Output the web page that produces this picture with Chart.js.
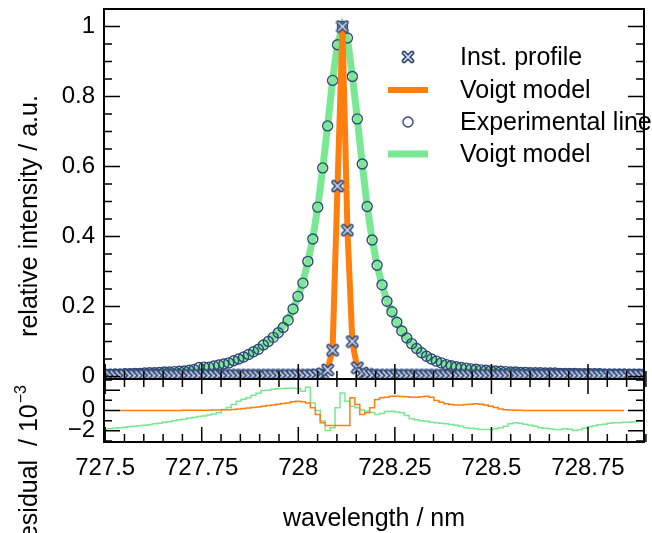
<!DOCTYPE html>
<html>
<head>
<meta charset="utf-8">
<script src="https://cdn.jsdelivr.net/npm/chart.js@4.4.1/dist/chart.umd.min.js"></script>
<style>
html, body { margin: 0; padding: 0; background: #fff; }
#wrap { width: 652px; height: 533px; position: relative; }
</style>
</head>
<body>
<div id="wrap"><canvas id="voigtChart" width="652" height="533"></canvas></div>
<script>
// wavelength grid of the spectrometer (nm)
var wavelength = [
  727.5000, 727.5128, 727.5256, 727.5384, 727.5512, 727.5640, 727.5768, 727.5896, 727.6024, 727.6152,
  727.6280, 727.6408, 727.6536, 727.6664, 727.6792, 727.6920, 727.7048, 727.7176, 727.7304, 727.7432,
  727.7560, 727.7688, 727.7816, 727.7944, 727.8072, 727.8200, 727.8328, 727.8456, 727.8584, 727.8712,
  727.8840, 727.8968, 727.9096, 727.9224, 727.9352, 727.9480, 727.9608, 727.9736, 727.9864, 727.9992,
  728.0120, 728.0248, 728.0376, 728.0504, 728.0632, 728.0760, 728.0888, 728.1016, 728.1144, 728.1272,
  728.1400, 728.1528, 728.1656, 728.1784, 728.1912, 728.2040, 728.2168, 728.2296, 728.2424, 728.2552,
  728.2680, 728.2808, 728.2936, 728.3064, 728.3192, 728.3320, 728.3448, 728.3576, 728.3704, 728.3832,
  728.3960, 728.4088, 728.4216, 728.4344, 728.4472, 728.4600, 728.4728, 728.4856, 728.4984, 728.5112,
  728.5240, 728.5368, 728.5496, 728.5624, 728.5752, 728.5880, 728.6008, 728.6136, 728.6264, 728.6392,
  728.6520, 728.6648, 728.6776, 728.6904, 728.7032, 728.7160, 728.7288, 728.7416, 728.7544, 728.7672,
  728.7800, 728.7928, 728.8056, 728.8184, 728.8312, 728.8440, 728.8568, 728.8696, 728.8824, 728.8952
];

// instrument profile (crosses) and its Voigt fit
var instProfile = [
  0.003, 0.003, 0.003, 0.003, 0.003, 0.003, 0.003, 0.003, 0.003, 0.003,
  0.003, 0.003, 0.003, 0.003, 0.003, 0.003, 0.003, 0.003, 0.003, 0.003,
  0.003, 0.003, 0.003, 0.003, 0.003, 0.003, 0.003, 0.003, 0.003, 0.003,
  0.003, 0.003, 0.003, 0.003, 0.003, 0.003, 0.003, 0.003, 0.003, 0.003,
  0.003, 0.003, 0.004, 0.005, 0.008, 0.019, 0.075, 0.544, 1.000, 0.418,
  0.100, 0.025, 0.010, 0.006, 0.004, 0.003, 0.003, 0.003, 0.003, 0.003,
  0.003, 0.003, 0.003, 0.003, 0.003, 0.003, 0.003, 0.003, 0.003, 0.003,
  0.003, 0.003, 0.003, 0.003, 0.003, 0.003, 0.003, 0.003, 0.003, 0.003,
  0.003, 0.003, 0.003, 0.003, 0.003, 0.003, 0.003, 0.003, 0.003, 0.003,
  0.003, 0.003, 0.003, 0.003, 0.003, 0.003, 0.003, 0.003, 0.003, 0.003,
  0.003, 0.003, 0.003, 0.003, 0.003, 0.003, 0.003, 0.003, 0.003, 0.003
];
var instModel = [
  0.003, 0.003, 0.003, 0.003, 0.003, 0.003, 0.003, 0.003, 0.003, 0.003,
  0.003, 0.003, 0.003, 0.003, 0.003, 0.003, 0.003, 0.003, 0.003, 0.003,
  0.003, 0.003, 0.003, 0.003, 0.003, 0.003, 0.003, 0.003, 0.003, 0.003,
  0.003, 0.003, 0.003, 0.003, 0.003, 0.003, 0.003, 0.003, 0.003, 0.003,
  0.003, 0.003, 0.004, 0.006, 0.009, 0.020, 0.078, 0.546, 1.000, 0.420,
  0.098, 0.024, 0.010, 0.006, 0.004, 0.003, 0.003, 0.003, 0.003, 0.003,
  0.003, 0.003, 0.003, 0.003, 0.003, 0.003, 0.003, 0.003, 0.003, 0.003,
  0.003, 0.003, 0.003, 0.003, 0.003, 0.003, 0.003, 0.003, 0.003, 0.003,
  0.003, 0.003, 0.003, 0.003, 0.003, 0.003, 0.003, 0.003, 0.003, 0.003,
  0.003, 0.003, 0.003, 0.003, 0.003, 0.003, 0.003, 0.003, 0.003, 0.003,
  0.003, 0.003, 0.003, 0.003, 0.003, 0.003, 0.003, 0.003, 0.003, 0.003
];

// experimental line (circles) and its Voigt fit
var expLine = [
  0.006, 0.006, 0.007, 0.007, 0.008, 0.008, 0.009, 0.009, 0.010, 0.011,
  0.011, 0.012, 0.013, 0.013, 0.014, 0.015, 0.016, 0.018, 0.020, 0.026,
  0.027, 0.027, 0.030, 0.033, 0.036, 0.039, 0.045, 0.050, 0.056, 0.063,
  0.071, 0.078, 0.090, 0.100, 0.112, 0.125, 0.140, 0.161, 0.193, 0.229,
  0.267, 0.329, 0.393, 0.484, 0.596, 0.716, 0.846, 0.948, 1.000, 0.967,
  0.857, 0.736, 0.607, 0.486, 0.390, 0.318, 0.262, 0.215, 0.185, 0.155,
  0.130, 0.110, 0.094, 0.080, 0.068, 0.058, 0.050, 0.044, 0.039, 0.034,
  0.031, 0.028, 0.026, 0.024, 0.022, 0.021, 0.019, 0.018, 0.017, 0.016,
  0.015, 0.014, 0.013, 0.013, 0.012, 0.012, 0.011, 0.011, 0.011, 0.010,
  0.010, 0.010, 0.009, 0.009, 0.009, 0.009, 0.008, 0.008, 0.008, 0.008,
  0.008, 0.007, 0.007, 0.007, 0.007, 0.007, 0.006, 0.006, 0.006, 0.006
];
var expModel = [
  0.006, 0.006, 0.007, 0.007, 0.008, 0.008, 0.009, 0.009, 0.010, 0.011,
  0.011, 0.012, 0.013, 0.013, 0.014, 0.015, 0.016, 0.018, 0.019, 0.021,
  0.023, 0.025, 0.028, 0.031, 0.035, 0.039, 0.044, 0.049, 0.055, 0.062,
  0.070, 0.079, 0.089, 0.100, 0.112, 0.126, 0.143, 0.163, 0.192, 0.228,
  0.270, 0.328, 0.395, 0.484, 0.594, 0.716, 0.846, 0.950, 0.998, 0.965,
  0.857, 0.736, 0.606, 0.487, 0.391, 0.318, 0.262, 0.216, 0.184, 0.155,
  0.130, 0.110, 0.094, 0.080, 0.068, 0.058, 0.050, 0.044, 0.039, 0.035,
  0.031, 0.028, 0.026, 0.024, 0.022, 0.021, 0.019, 0.018, 0.017, 0.016,
  0.015, 0.014, 0.013, 0.013, 0.012, 0.012, 0.011, 0.011, 0.011, 0.010,
  0.010, 0.010, 0.009, 0.009, 0.009, 0.009, 0.008, 0.008, 0.008, 0.008,
  0.008, 0.007, 0.007, 0.007, 0.007, 0.007, 0.006, 0.006, 0.006, 0.006
];

// residuals in units of 1e-3
var residInst = [
  null, null, null, 0, 0, 0, 0, 0, 0, 0,
  0, 0, 0, 0, 0, 0.01, 0.02, 0.02, 0.02, 0.02,
  0.02, 0.03, 0.04, 0.05, 0.07, 0.08, 0.10, 0.15, 0.20, 0.25,
  0.30, 0.35, 0.43, 0.50, 0.55, 0.62, 0.70, 0.75, 0.85, 0.92,
  0.85, 0.75, 0.26, -0.40, -1.20, -1.47, -1.47, -1.47, -1.47, -1.47,
  1.25, 0.60, -0.40, -0.23, 0.26, 1.08, 1.25, 1.30, 1.40, 1.40,
  1.38, 1.35, 1.30, 1.30, 1.35, 1.40, 1.30, 0.98, 0.80, 0.66,
  0.58, 0.53, 0.53, 0.58, 0.62, 0.66, 0.62, 0.55, 0.43, 0.30,
  0.15, 0.08, 0.04, 0.02, 0.02, 0.01, 0.01, 0.01, 0, 0,
  0, 0, 0, 0, 0, 0, 0, 0, 0, 0,
  0, 0, 0, 0, 0, 0, null, null, null, null
];
var residExp = [
  -1.86, -1.80, -1.75, -1.70, -1.65, -1.60, -1.55, -1.50, -1.45, -1.40,
  -1.30, -1.25, -1.15, -1.10, -1.00, -0.90, -0.85, -0.75, -0.70, -0.60,
  -0.55, -0.45, -0.35, -0.23, 0.10, 0.30, 0.60, 0.90, 1.10, 1.25,
  1.50, 1.70, 1.96, 2.00, 2.10, 2.15, 2.16, 2.20, 2.20, 2.16,
  1.90, 2.30, 0.75, 0.00, -1.04, -1.96, -1.70, 0.26, 1.73, 0.92,
  0.43, 0.26, 0.05, -0.07, -0.20, -0.40, -0.30, -0.10, -0.07, -0.15,
  -0.23, -0.50, -0.80, -0.90, -1.00, -1.05, -1.15, -1.20, -1.25, -1.30,
  -1.37, -1.45, -1.55, -1.70, -1.75, -1.80, -1.86, -1.86, -1.86, -1.80,
  -1.70, -1.55, -1.30, -1.20, -1.25, -1.35, -1.45, -1.55, -1.70, -1.75,
  -1.80, -1.86, -1.86, -1.80, -1.85, -1.96, -1.90, -1.75, -1.60, -1.50,
  -1.40, -1.35, -1.25, -1.20, -1.20, -1.15, -1.15, -1.10, -1.05, -1.00
];

// tick labels
var xTickLabels = [727.5, 727.75, 728, 728.25, 728.5, 728.75];
var yTickLabels = [0, 0.2, 0.4, 0.6, 0.8, 1];
var resTickLabels = [-2, 0];

var FONT = '"Liberation Sans", Arial, sans-serif';
var blue = '#2f4777';
var orange = '#ff7f0e';
var green = '#79e893';

function pairs(ys) {
    return wavelength.map(function (w, i) { return { x: w, y: ys[i] }; });
}

// outlined "x" marker like the original plot
function makeCross() {
    var cv = document.createElement('canvas');
    cv.width = 14; cv.height = 14;
    var g = cv.getContext('2d');
    g.lineCap = 'round';
    g.beginPath();
    g.moveTo(3, 3); g.lineTo(11, 11);
    g.moveTo(3, 11); g.lineTo(11, 3);
    g.strokeStyle = blue; g.lineWidth = 4.6; g.stroke();
    g.strokeStyle = '#d9e0ee'; g.lineWidth = 1.6; g.stroke();
    return cv;
}
var crossMarker = makeCross();

function noPadding(s) {
    s.paddingTop = 0; s.paddingBottom = 0; s.paddingLeft = 0; s.paddingRight = 0;
}

// inward tick marks, panel frames, legend and axis titles
var framePlugin = {
    id: 'frame',
    afterDatasetsDraw: function (chart) {
        var c = chart.ctx;
        var sx = chart.scales.x, sy = chart.scales.y, sr = chart.scales.yRes;
        var L = sx.left, R = sx.right;
        c.save();
        c.strokeStyle = '#000';
        c.lineWidth = 1.5;
        c.beginPath();
        // x ticks, every 0.05, long at 0.25
        for (var k = 0; k <= 28; k++) {
            var v = 727.5 + k * 0.05;
            var px = sx.getPixelForValue(v);
            var len = k % 5 === 0 ? 15 : 8;
            c.moveTo(px, sy.bottom); c.lineTo(px, sy.bottom - len);
            c.moveTo(px, sr.top); c.lineTo(px, sr.top + len);
            c.moveTo(px, sr.bottom); c.lineTo(px, sr.bottom - len);
        }
        // main y ticks, every 0.05, long at 0.2
        for (var j = 0; j <= 20; j++) {
            var py = sy.getPixelForValue(j * 0.05);
            var l2 = j % 4 === 0 ? 16 : 8;
            c.moveTo(L, py); c.lineTo(L + l2, py);
            c.moveTo(R, py); c.lineTo(R - l2, py);
        }
        // residual y ticks, every 1, long at even values
        for (var m = -3; m <= 3; m++) {
            var pr = sr.getPixelForValue(m);
            var l3 = m % 2 === 0 ? 16 : 8;
            c.moveTo(L, pr); c.lineTo(L + l3, pr);
            c.moveTo(R, pr); c.lineTo(R - l3, pr);
        }
        c.stroke();
        c.lineWidth = 2;
        c.strokeRect(L, sy.top, R - L, sy.bottom - sy.top);
        c.strokeRect(L, sr.top, R - L, sr.bottom - sr.top);

        // legend
        var ds = chart.data.datasets;
        var rows = [57, 90, 122, 154];
        var mx = 408;
        c.font = '25px ' + FONT;
        c.textBaseline = 'middle';
        c.textAlign = 'left';
        [ds[0], ds[1], ds[2], ds[3]].forEach(function (d, i) {
            var y = rows[i];
            if (d.showLine === false) {
                if (d.pointStyle === crossMarker) {
                    c.drawImage(crossMarker, mx - 7, y - 7);
                } else {
                    c.strokeStyle = d.pointBorderColor;
                    c.lineWidth = d.pointBorderWidth;
                    c.beginPath();
                    c.arc(mx, y, d.pointRadius, 0, Math.PI * 2);
                    c.stroke();
                }
            } else {
                c.strokeStyle = d.borderColor;
                c.lineWidth = d.borderWidth;
                c.beginPath();
                c.moveTo(388, y); c.lineTo(428, y);
                c.stroke();
            }
            c.fillStyle = '#000';
            c.fillText(d.label, 460, y + 1);
        });
        c.restore();
    },
    afterDraw: function (chart) {
        var c = chart.ctx;
        c.save();
        c.fillStyle = '#000';
        c.font = '25px ' + FONT;
        c.textBaseline = 'alphabetic';
        // x title
        c.textAlign = 'center';
        c.fillText('wavelength / nm', 374, 526);
        // main y title
        c.save();
        c.translate(37, 216);
        c.rotate(-Math.PI / 2);
        c.fillText('relative intensity / a.u.', 0, 0);
        c.restore();
        // residual y title with superscript exponent
        var main = 'residual  / 10';
        var sup = '\u22123';
        c.font = '25px ' + FONT;
        var w1 = c.measureText(main).width;
        c.font = '16px ' + FONT;
        var w2 = c.measureText(sup).width;
        c.save();
        c.translate(37, 386 + w1 + w2);
        c.rotate(-Math.PI / 2);
        c.textAlign = 'left';
        c.font = '25px ' + FONT;
        c.fillText(main, 0, 0);
        c.font = '16px ' + FONT;
        c.fillText(sup, w1 + 1, -11);
        c.restore();
        c.restore();
    }
};

var ctx = document.getElementById('voigtChart').getContext('2d');
var voigtChart = new Chart(ctx, {
    type: 'line',
    data: {
        datasets: [{
            label: 'Inst. profile',
            data: pairs(instProfile),
            yAxisID: 'y',
            showLine: false,
            pointStyle: crossMarker,
            pointRadius: 7,
            order: 0
        }, {
            label: 'Voigt model',
            data: pairs(instModel),
            yAxisID: 'y',
            borderColor: orange,
            borderWidth: 6,
            pointRadius: 0,
            tension: 0,
            order: 1
        }, {
            label: 'Experimental line',
            data: pairs(expLine),
            yAxisID: 'y',
            showLine: false,
            pointStyle: 'circle',
            pointRadius: 5,
            pointBorderWidth: 1.4,
            pointBorderColor: blue,
            pointBackgroundColor: 'rgba(0,0,0,0)',
            order: 2
        }, {
            label: 'Voigt model',
            data: pairs(expModel),
            yAxisID: 'y',
            borderColor: green,
            borderWidth: 7,
            pointRadius: 0,
            tension: 0,
            order: 3
        }, {
            label: 'residual inst',
            data: pairs(residInst),
            yAxisID: 'yRes',
            borderColor: orange,
            borderWidth: 1.5,
            pointRadius: 0,
            stepped: 'middle',
            order: 4
        }, {
            label: 'residual exp',
            data: pairs(residExp),
            yAxisID: 'yRes',
            borderColor: green,
            borderWidth: 1.5,
            pointRadius: 0,
            stepped: 'middle',
            order: 5
        }]
    },
    options: {
        responsive: false,
        animation: false,
        layout: { padding: { top: 9, right: 4, left: 0, bottom: 0 } },
        plugins: {
            legend: { display: false },
            tooltip: { enabled: false }
        },
        scales: {
            x: {
                type: 'linear',
                min: 727.497,
                max: 728.895,
                grid: { display: false, drawTicks: false },
                border: { display: false },
                afterBuildTicks: function (s) {
                    s.ticks = xTickLabels.map(function (v) { return { value: v }; });
                },
                afterFit: function (s) { s.height = 91; noPadding(s); },
                ticks: {
                    padding: 12,
                    maxRotation: 0,
                    autoSkip: false,
                    color: '#000',
                    font: { family: FONT, size: 24 },
                    callback: function (v) { return String(v); }
                }
            },
            yRes: {
                type: 'linear',
                position: 'left',
                stack: 'panels',
                stackWeight: 63,
                weight: 0,
                min: -3.1,
                max: 3.1,
                grid: { display: false, drawTicks: false },
                border: { display: false },
                afterBuildTicks: function (s) {
                    s.ticks = resTickLabels.map(function (v) { return { value: v }; });
                },
                afterFit: function (s) { s.width = 104; noPadding(s); },
                ticks: {
                    padding: 9,
                    autoSkip: false,
                    color: '#000',
                    font: { family: FONT, size: 24 },
                    callback: function (v) { return v < 0 ? '\u2212' + Math.abs(v) : String(v); }
                }
            },
            y: {
                type: 'linear',
                position: 'left',
                stack: 'panels',
                stackWeight: 370,
                weight: 1,
                min: -0.007,
                max: 1.05,
                grid: { display: false, drawTicks: false },
                border: { display: false },
                afterBuildTicks: function (s) {
                    s.ticks = yTickLabels.map(function (v) { return { value: v }; });
                },
                afterFit: function (s) { s.width = 104; noPadding(s); },
                ticks: {
                    padding: 9,
                    autoSkip: false,
                    color: '#000',
                    font: { family: FONT, size: 24 },
                    callback: function (v) { return String(v); }
                }
            }
        }
    },
    plugins: [framePlugin]
});
</script>
</body>
</html>
